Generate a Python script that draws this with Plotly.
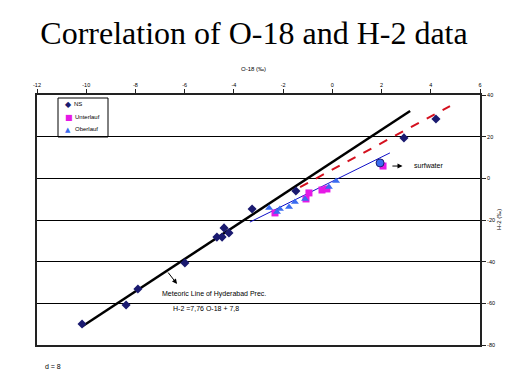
import plotly.graph_objects as go

# ---- data ----
ns_o18 = [-10.17, -8.38, -7.90, -5.99, -4.69, -4.48, -4.40, -4.20, -3.26, -1.48, 2.91, 4.21]
ns_h2 = [-69.9, -60.8, -53.1, -40.6, -28.2, -28.2, -23.8, -26.2, -14.7, -6.1, 19.4, 28.5]

unter_o18 = [-2.33, -1.07, -0.95, -0.42, -0.22, 2.06]
unter_h2 = [-16.6, -9.9, -7.0, -5.6, -5.1, 5.9]

ober_o18 = [-2.57, -2.25, -2.13, -1.76, -1.52, -1.11, -0.14, 0.15]
ober_h2 = [-14.2, -16.2, -14.7, -13.8, -11.4, -9.9, -4.2, -1.3]

surf_o18 = [1.94]
surf_h2 = [7.4]

# meteoric water line H-2 = 7.76 O-18 + 7.8 (end points)
mwl_o18 = [-10.17, 3.16]
mwl_h2 = [-71.1, 32.3]

# red dashed trend line
red_o18 = [-1.31, 4.78]
red_h2 = [-4.2, 34.7]

# thin blue trend line
blue_o18 = [-3.35, 2.34]
blue_h2 = [-21.0, 12.2]

x_ticks = [-12, -10, -8, -6, -4, -2, 0, 2, 4, 6]
y_ticks = [-80, -60, -40, -20, 0, 20, 40]

# page body has an 8px margin; size the figure so the page looks 519x389
OFF = 8
W, H = 519 - OFF, 389 - OFF
PL, PR, PT, PB = 37, 480, 95, 345          # plot area in page pixels
ML, MR, MT, MB = PL - OFF, W - (PR - OFF), PT - OFF, H - (PB - OFF)
PW, PH = PR - PL, PB - PT

fig = go.Figure()

fig.add_trace(go.Scatter(x=mwl_o18, y=mwl_h2, mode="lines",
                         line=dict(color="black", width=2.5), showlegend=False))
fig.add_trace(go.Scatter(x=red_o18, y=red_h2, mode="lines",
                         line=dict(color="#D4101E", width=2, dash="dash"), showlegend=False))
fig.add_trace(go.Scatter(x=blue_o18, y=blue_h2, mode="lines",
                         line=dict(color="#1010C8", width=1), showlegend=False))

fig.add_trace(go.Scatter(x=unter_o18, y=unter_h2, mode="markers", name="Unterlauf",
                         marker=dict(symbol="square", size=7, color="#E619E6"), showlegend=False))
fig.add_trace(go.Scatter(x=ober_o18, y=ober_h2, mode="markers", name="Oberlauf",
                         marker=dict(symbol="triangle-up", size=7, color="#3A6CF0"), showlegend=False))
fig.add_trace(go.Scatter(x=surf_o18, y=surf_h2, mode="markers", name="surfwater",
                         marker=dict(symbol="circle", size=8, color="#3A6CF0",
                                     line=dict(color="#1A1A70", width=1)), showlegend=False))
fig.add_trace(go.Scatter(x=ns_o18, y=ns_h2, mode="markers", name="NS",
                         marker=dict(symbol="diamond", size=7, color="#1A1A70"), showlegend=False))


def px_x(p):
    return (p - PL) / PW


def px_y(p):
    return 1 - (p - PT) / PH


FONT = "Arial, Liberation Sans, sans-serif"


def ptext(text, x, y, size=6, anchor="center", color="black", family=FONT, **kw):
    return dict(text=text, x=px_x(x), y=px_y(y), xref="paper", yref="paper",
                xanchor=anchor, yanchor="middle", showarrow=False,
                font=dict(size=size, family=family, color=color), **kw)


annotations = [
    # axis titles
    ptext("O-18 (‰)", 253, 69),
    ptext("H-2 (‰)", 499, 220, textangle=-90),
    # surfwater
    dict(text="", x=2.85, y=5.9, ax=2.38, ay=5.9, xref="x", yref="y", axref="x", ayref="y",
         showarrow=True, arrowhead=2, arrowsize=1, arrowwidth=1, arrowcolor="black"),
    dict(text="surfwater", x=3.24, y=6.4, xref="x", yref="y", xanchor="left",
         showarrow=False, font=dict(size=7, family=FONT, color="black")),
    # meteoric line
    dict(text="", x=-6.31, y=-50.7, ax=-6.72, ay=-44.5, xref="x", yref="y", axref="x", ayref="y",
         showarrow=True, arrowhead=2, arrowsize=1, arrowwidth=1, arrowcolor="black"),
    dict(text="Meteoric Line of Hyderabad Prec.", x=-7.0, y=-55.5, xref="x", yref="y",
         xanchor="left", showarrow=False, font=dict(size=7, family=FONT, color="black")),
    dict(text="H-2 =7,76 O-18 + 7,8", x=-6.56, y=-62.6, xref="x", yref="y",
         xanchor="left", showarrow=False, font=dict(size=7, family=FONT, color="black")),
    # d = 8
    ptext("d = 8", 43, 366, size=7, anchor="left"),
    # manual legend
    ptext("◆", 68, 104, size=8, color="#1A1A70", family="DejaVu Sans"),
    ptext("■", 69, 117, size=8, color="#E619E6", family="DejaVu Sans"),
    ptext("▲", 68, 130, size=7, color="#3A6CF0", family="DejaVu Sans"),
    ptext("NS", 72, 104, anchor="left"),
    ptext("Unterlauf", 73, 117, anchor="left"),
    ptext("Oberlauf", 73, 129, anchor="left"),
]

shapes = [
    dict(type="rect", xref="paper", yref="paper",
         x0=px_x(58), x1=px_x(108), y0=px_y(137), y1=px_y(98),
         line=dict(color="black", width=1), fillcolor="white", layer="below"),
]

fig.update_layout(
    width=W, height=H,
    margin=dict(l=ML, r=MR, t=MT, b=MB),
    paper_bgcolor="white", plot_bgcolor="white",
    showlegend=False,
    title=dict(text="Correlation of O-18 and H-2 data",
               x=(254 - OFF) / W, xanchor="center", y=1 - (33 - OFF) / H, yanchor="middle",
               font=dict(family="Times New Roman, Liberation Serif, serif", size=32, color="black")),
    annotations=annotations,
    shapes=shapes,
)

fig.update_xaxes(range=[-12, 6], side="top", tickvals=x_ticks, ticktext=[str(v) for v in x_ticks],
                 showgrid=False, zeroline=False, showline=True, mirror=True,
                 linecolor="#222", linewidth=2, ticks="outside", ticklen=4, tickcolor="#222",
                 tickfont=dict(size=5.5, family=FONT, color="black"))
fig.update_yaxes(range=[-80, 40], side="right", tickvals=y_ticks, ticktext=[str(v) for v in y_ticks],
                 showgrid=True, gridcolor="black", gridwidth=1, zeroline=False,
                 showline=True, mirror=True, linecolor="#222", linewidth=2,
                 ticks="outside", ticklen=4, tickcolor="#222",
                 tickfont=dict(size=5.5, family=FONT, color="black"))

fig.write_html("out.html")
